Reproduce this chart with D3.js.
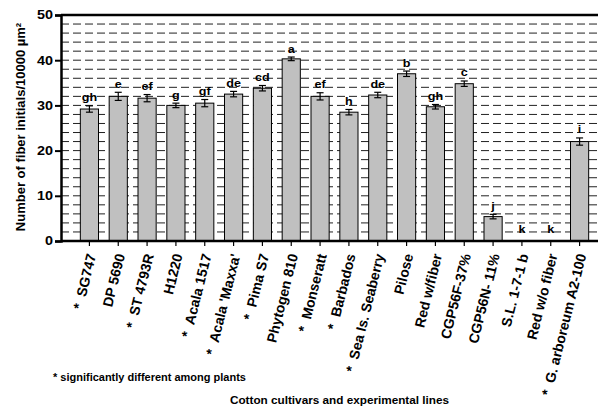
<!DOCTYPE html>
<html>
<head>
<meta charset="utf-8">
<script src="https://cdn.jsdelivr.net/npm/d3@7"></script>
<style>
  body { margin: 0; background: #fff; }
  text { font-family: "Liberation Sans", Arial, sans-serif; font-weight: bold; }
</style>
</head>
<body>
<script>
const cultivars = ["SG747", "DP 5690", "ST 4793R", "H1220", "Acala 1517", "Acala 'Maxxa'",
  "Pima S7", "Phytogen 810", "Monseratt", "Barbados", "Sea Is. Seaberry", "Pilose",
  "Red w/fiber", "CGP56F-37%", "CGP56N- 11%", "S.L. 1-7-1 b", "Red w/o fiber", "G. arboreum A2-100"];
const starred = [true, false, true, false, true, true, true, false, true, true, true, false,
  false, false, false, false, false, true];
const means = [29.2, 32, 31.6, 30, 30.5, 32.5, 33.8, 40.3, 32, 28.5, 32.3, 37, 29.7, 34.8, 5.4, 0, 0, 22];
const errs = [0.7, 0.9, 0.8, 0.5, 0.8, 0.6, 0.6, 0.4, 0.8, 0.6, 0.6, 0.6, 0.5, 0.6, 0.5, 0, 0, 0.8];
const groups = ["gh", "e", "ef", "g", "gf", "de", "cd", "a", "ef", "h", "de", "b", "gh", "c", "j", "k", "k", "i"];
const yTicks = [0, 10, 20, 30, 40, 50];

const width = 599, height = 412;
const plotL = 61, plotR = 598, plotT = 15, plotB = 241;
const sx = 1.2; // text in the picture is a bit wide

const svg = d3.select('body').append('svg').attr('width', width).attr('height', height);

const x = d3.scaleBand().domain(cultivars).range([75, 594]).paddingInner(0.37).paddingOuter(0.185);
const y = d3.scaleLinear().domain([0, 50]).range([plotB, plotT]);

// dashed grid every 2 units
svg.append('g')
  .selectAll('line')
  .data(d3.range(2, 50, 2))
  .enter().append('line')
  .attr('x1', plotL).attr('x2', plotR)
  .attr('y1', d => y(d)).attr('y2', d => y(d))
  .attr('stroke', '#222')
  .attr('stroke-width', 1)
  .attr('stroke-dasharray', '8,4');

// bars
svg.selectAll('rect.bar')
  .data(means)
  .enter().append('rect')
  .attr('class', 'bar')
  .attr('x', (d, i) => x(cultivars[i]))
  .attr('width', x.bandwidth())
  .attr('y', d => y(d))
  .attr('height', d => plotB - y(d))
  .attr('fill', '#c0c0c0')
  .attr('stroke', '#000')
  .attr('stroke-width', 1);

// error bars
const eb = svg.append('g').attr('stroke', '#000').attr('stroke-width', 1.2);
means.forEach((m, i) => {
  if (errs[i] === 0) return;
  const cx = x(cultivars[i]) + x.bandwidth() / 2;
  eb.append('line').attr('x1', cx).attr('x2', cx).attr('y1', y(m - errs[i])).attr('y2', y(m + errs[i]));
  eb.append('line').attr('x1', cx - 3.5).attr('x2', cx + 3.5).attr('y1', y(m - errs[i])).attr('y2', y(m - errs[i]));
  eb.append('line').attr('x1', cx - 3.5).attr('x2', cx + 3.5).attr('y1', y(m + errs[i])).attr('y2', y(m + errs[i]));
});

// significance letters
svg.selectAll('g.grp')
  .data(groups)
  .enter().append('g')
  .attr('class', 'grp')
  .attr('transform', (d, i) => {
    const cx = x(cultivars[i]) + x.bandwidth() / 2;
    const cy = y(means[i] + errs[i]) - (errs[i] === 0 ? 8 : 4.5);
    return `translate(${cx},${cy}) scale(${sx},1)`;
  })
  .append('text')
  .attr('text-anchor', 'middle')
  .attr('font-size', '10.5px')
  .text(d => d);

// frame: top border, left axis, bottom axis
svg.append('line').attr('x1', plotL).attr('x2', plotR).attr('y1', plotT).attr('y2', plotT)
  .attr('stroke', '#000').attr('stroke-width', 2.5);

const yAxis = d3.axisLeft(y).tickValues(yTicks).tickSize(6).tickPadding(0).tickFormat(d3.format('d'));
const gy = svg.append('g').attr('transform', `translate(${plotL},0)`).call(yAxis);
gy.select('.domain').attr('stroke-width', 2.5);
gy.selectAll('.tick line').attr('stroke-width', 2);
gy.selectAll('.tick text')
  .attr('font-size', '12px')
  .attr('font-family', '"Liberation Sans", Arial, sans-serif')
  .attr('x', -8 / sx)
  .attr('transform', `scale(${sx},1)`);

const xAxis = d3.axisBottom(x).tickSize(5).tickFormat((d, i) => (starred[i] ? '*\u00A0\u00A0' : '') + d);
const gx = svg.append('g').attr('transform', `translate(0,${plotB})`).call(xAxis);
gx.select('.domain').attr('d', `M${plotL},0H${plotR}`).attr('stroke-width', 2.5);
gx.selectAll('.tick line').attr('stroke-width', 1.2);
gx.selectAll('.tick text')
  .attr('font-size', '14px')
  .attr('font-family', '"Liberation Sans", Arial, sans-serif')
  .attr('text-anchor', 'end')
  .attr('transform', 'translate(2,13) rotate(-76)')
  .attr('x', 0).attr('y', 0).attr('dy', '0.35em');

// titles
svg.append('text')
  .attr('transform', `translate(25,127) rotate(-90)`)
  .attr('text-anchor', 'middle')
  .attr('font-size', '13px')
  .text('Number of fiber initials/10000 µm²');

svg.append('g')
  .attr('transform', `translate(53,381) scale(1.1,1)`)
  .append('text')
  .attr('font-size', '10px')
  .text('* significantly different among plants');

svg.append('g')
  .attr('transform', `translate(339.5,404) scale(1.12,1)`)
  .append('text')
  .attr('text-anchor', 'middle')
  .attr('font-size', '10.5px')
  .text('Cotton cultivars and experimental lines');
</script>
</body>
</html>
